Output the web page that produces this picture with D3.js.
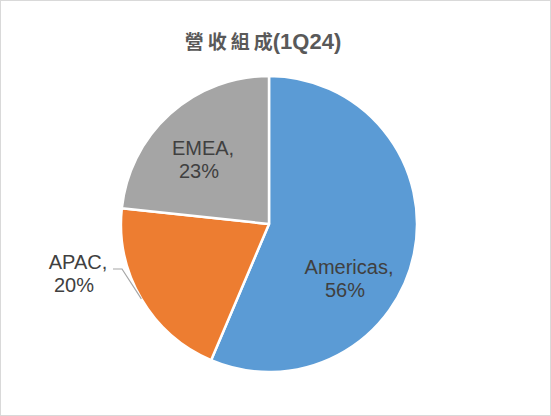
<!DOCTYPE html>
<html>
<head>
<meta charset="utf-8">
<script src="https://cdn.jsdelivr.net/npm/d3@7"></script>
<style>
  html, body { margin: 0; padding: 0; background: #fff; }
  svg { display: block; }
</style>
</head>
<body>
<svg id="chart" width="551" height="416"></svg>
<script>
// data
let regions = ["Americas", "APAC", "EMEA"];
let shares  = [56.4, 20.3, 23.3];
let labels  = ["56%", "20%", "23%"];
let title   = "營收組成(1Q24)";

let chart = d3.select("#chart");
let chart_width = 551, chart_height = 416;

// outer border
chart.append("rect")
    .attr("x", 0.5).attr("y", 0.5)
    .attr("width", chart_width - 1).attr("height", chart_height - 1)
    .attr("fill", "#fff")
    .attr("stroke", "#d9d9d9");

// title
let t = chart.append("text")
    .attr("x", 263)
    .attr("y", 49)
    .attr("text-anchor", "middle")
    .style("font-weight", "bold")
    .style("fill", "#595959");
t.append("tspan")
    .style("font-family", "'Noto Sans CJK TC', sans-serif")
    .style("font-size", "19px")
    .style("letter-spacing", "4px")
    .text(title.slice(0, 3));
t.append("tspan")
    .style("font-family", "'Noto Sans CJK TC', sans-serif")
    .style("font-size", "19px")
    .text(title.slice(3, 4));
t.append("tspan")
    .style("font-family", "'Liberation Sans', Arial, sans-serif")
    .style("font-size", "22px")
    .text(title.slice(4));

let color = d3.scaleOrdinal()
    .domain(regions)
    .range(["#5b9bd5", "#ed7d31", "#a5a5a5"]);

let cx = 269, cy = 224, radius = 148;

let pie = d3.pie().sort(null).value(function(d) { return d; });
let arc = d3.arc().innerRadius(0).outerRadius(radius);
let arcs = pie(shares);

let g = chart.append("g").attr("transform", "translate(" + cx + "," + cy + ")");

g.selectAll("path.slice")
    .data(arcs)
    .enter()
    .append("path")
    .attr("class", "slice")
    .attr("d", arc)
    .attr("fill", function(d, i) { return color(regions[i]); })
    .attr("stroke", "#fff")
    .attr("stroke-width", 2.5)
    .attr("stroke-linejoin", "round");

// label placement (Excel best fit, relative to pie centre)
let labelPos = {
    "Americas": { x: 80, y: 50, anchor: "middle" },
    "APAC":     { x: -191, y: 45, anchor: "middle" },
    "EMEA":     { x: -66, y: -69, anchor: "middle" }
};

// leader line for APAC (outside label)
let apac = arcs[1];
let mid = (apac.startAngle + apac.endAngle) / 2;
let p0 = [radius * Math.sin(mid), -radius * Math.cos(mid)];
g.append("polyline")
    .attr("points", [p0, [-147, 45], [-156, 45]].map(function(p) { return p.join(","); }).join(" "))
    .attr("fill", "none")
    .attr("stroke", "#a6a6a6")
    .attr("stroke-width", 1.2);

regions.forEach(function(r, i) {
    let pos = labelPos[r];
    let txt = g.append("text")
        .attr("text-anchor", pos.anchor)
        .style("font-family", "'Liberation Sans', Arial, sans-serif")
        .style("font-size", "20px")
        .style("fill", "#404040");
    txt.append("tspan")
        .attr("x", pos.x).attr("y", pos.y)
        .text(r + ",");
    txt.append("tspan")
        .attr("x", pos.x - 4).attr("y", pos.y + 23)
        .text(labels[i]);
});
</script>
</body>
</html>
